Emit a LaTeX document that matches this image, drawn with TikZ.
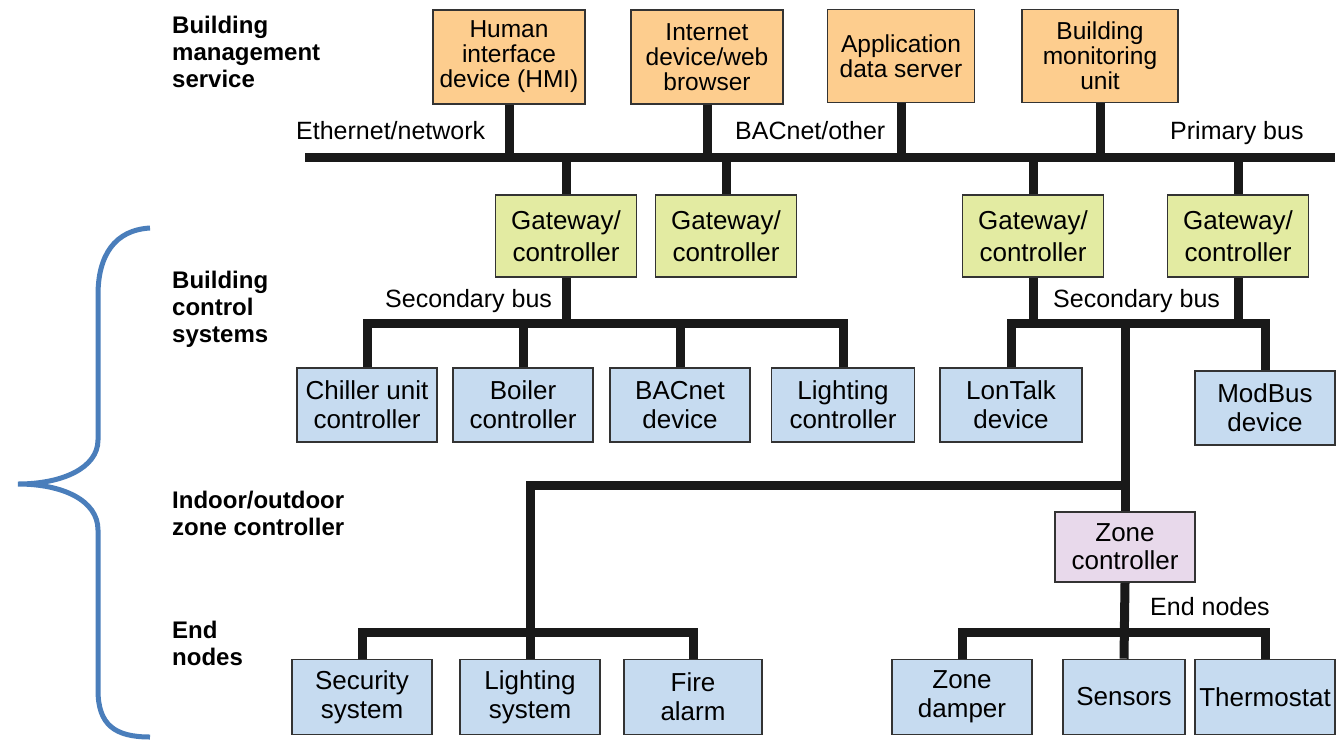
\documentclass[tikz,border=0pt]{standalone}
\usepackage{fontspec}
\setmainfont{Liberation Sans}
\usetikzlibrary{positioning}
\definecolor{mgmtorange}{RGB}{253,205,142}
\definecolor{gwgreen}{RGB}{227,235,162}
\definecolor{devblue}{RGB}{198,219,240}
\definecolor{zonelilac}{RGB}{232,217,235}
\definecolor{braceblue}{RGB}{74,126,187}
\begin{document}
\begin{tikzpicture}[x=1pt,y=-1pt,
  unit/.style={draw=black!80,line width=1.6pt,align=center,inner sep=1pt,font=\fontsize{26}{29}\selectfont},
  mgmt/.style={unit,fill=mgmtorange,minimum width=152,minimum height=94,font=\fontsize{24.5}{25}\selectfont},
  gw/.style={unit,fill=gwgreen,minimum width=141,minimum height=82,font=\fontsize{26}{32}\selectfont},
  dev/.style={unit,fill=devblue,minimum width=140,minimum height=74},
  zc/.style={unit,fill=zonelilac,minimum width=140,minimum height=70,font=\fontsize{26}{28}\selectfont},
  lvl/.style={anchor=north west,align=left,inner sep=0,font=\bfseries\fontsize{24}{27}\selectfont},
  buslabel/.style={anchor=base west,inner sep=0,font=\fontsize{25}{25}\selectfont},
  bus/.style={line width=9pt,black!90,line join=miter}]
\useasboundingbox (0,0) rectangle (1339,740);
% levels
\node[lvl] (lvl1) at (172,16) {Building\\management\\service};
\node[lvl] (lvl2) at (172,271) {Building\\control\\systems};
\node[lvl] (lvl3) at (172,491) {Indoor/outdoor\\zone controller};
\node[lvl] (lvl4) at (172,621) {End\\nodes};
\draw[braceblue,line width=5pt] (150,228) .. controls (115,230) and (98,255) .. (98,295) -- (98,440)
  .. controls (98,468) and (62,484) .. (18,484) .. controls (62,484) and (98,500) .. (98,530)
  -- (98,690) .. controls (98,725) and (115,737) .. (150,737);
% management
\node[mgmt] (hmi) at (509,57) {Human\\interface\\device (HMI)};
\node[mgmt] (web) at (707,57) {Internet\\device/web\\browser};
\node[mgmt,minimum width=147,minimum height=93] (app) at (901,56) {Application\\data server};
\node[mgmt,minimum width=156,minimum height=93] (mon) at (1100,56) {Building\\monitoring\\unit};
% gateways
\node[gw] (gw1) at (566,236) {Gateway/\\controller};
\node[gw] (gw2) at (726,236) {Gateway/\\controller};
\node[gw] (gw3) at (1033,236) {Gateway/\\controller};
\node[gw] (gw4) at (1238,236) {Gateway/\\controller};
% control devices
\node[dev] (chil) at (367,405) {Chiller unit\\controller};
\node[dev] (boil) at (523,405) {Boiler\\controller};
\node[dev] (bacn) at (680,405) {BACnet\\device};
\node[dev,minimum width=143] (lctl) at (843,405) {Lighting\\controller};
\node[dev,minimum width=142] (lont) at (1011,405) {LonTalk\\device};
\node[dev] (modb) at (1265,408) {ModBus\\device};
% zone and end nodes
\node[zc] (zone) at (1125,547) {Zone\\controller};
\node[dev,minimum height=75] (secu) at (362,697) {Security\\system};
\node[dev,minimum height=75] (lsys) at (530,697) {Lighting\\system};
\node[dev,minimum height=75,minimum width=138] (fire) at (693,697) {Fire\\alarm};
\node[dev,minimum height=75] (damp) at (962,697) {Zone\\damper};
\node[dev,minimum height=75,minimum width=122] (sens) at (1124,697) {Sensors};
\node[dev,minimum height=75] (ther) at (1265,697) {Thermostat};
% bus labels
\node[buslabel] (ethl) at (296,139) {Ethernet/network};
\node[buslabel] (bacl) at (735,139) {BACnet/other};
\node[buslabel] (pril) at (1170,139) {Primary bus};
\node[buslabel] (sec1) at (385,307) {Secondary bus};
\node[buslabel] (sec2) at (1053,307) {Secondary bus};
\node[buslabel] (endl) at (1150,615) {End nodes};
% primary bus
\coordinate (pbL) at (305,157);
\coordinate (pbR) at (1335,157);
\draw[bus] (pbL) -- (pbR);
\foreach \n in {hmi,web,app,mon} \draw[bus] (\n.south) -- (\n.south |- pbL);
\foreach \n in {gw1,gw2,gw3,gw4} \draw[bus] (\n.north) -- (\n.north |- pbL);
% secondary buses
\coordinate (sb) at (0,323);
\draw[bus] (chil.north) -- (chil.north |- sb) -- (lctl.north |- sb) -- (lctl.north);
\foreach \n in {boil,bacn} \draw[bus] (\n.north) -- (\n.north |- sb);
\draw[bus] (lont.north) -- (lont.north |- sb) -- (modb.north |- sb) -- (modb.north);
\foreach \n in {gw1,gw3,gw4} \draw[bus] (\n.south) -- (\n.south |- sb);
% zone trunk
\coordinate (zb) at (0,485);
\coordinate (eb) at (0,632);
\draw[bus] (zone.north |- sb) -- (zone.north);
\draw[bus] (zone.north |- zb) -- (lsys.north |- zb) -- (lsys.north);
\draw[bus] (secu.north) -- (secu.north |- eb) -- (fire.north |- eb) -- (fire.north);
\draw[bus] (damp.north) -- (damp.north |- eb) -- (ther.north |- eb) -- (ther.north);
\draw[bus] (zone.south) -- (sens.north);
\end{tikzpicture}
\end{document}
